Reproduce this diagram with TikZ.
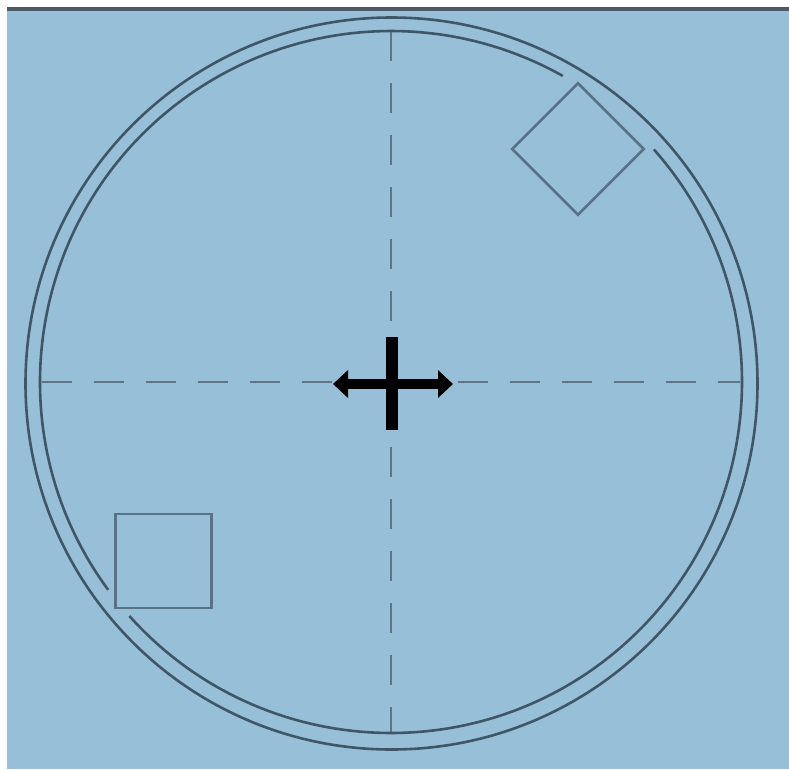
\documentclass[tikz,border=0pt]{standalone}
\usetikzlibrary{arrows.meta}
\definecolor{bgblue}{HTML}{97BFD8}
\definecolor{ringcol}{HTML}{3F5669}
\definecolor{boxcol}{HTML}{587388}
\definecolor{dashcol}{HTML}{5F7587}
\definecolor{topbar}{HTML}{4A5A6A}
\tikzset{
  ring/.style={draw=ringcol, line width=2.6pt},
  marker/.style={draw=boxcol, line width=2.6pt, inner sep=0pt, outer sep=0pt},
  crossline/.style={draw=dashcol, line width=2.8pt, dash pattern=on 30pt off 22pt},
  crossbar/.style={draw=black, line width=12pt},
}
\begin{document}
\begin{tikzpicture}[x=1pt,y=-1pt]
\useasboundingbox (0,0) rectangle (789,769);
\fill[white] (0,0) rectangle (789,769);
\fill[bgblue] (7,7) rectangle (789,769);
\fill[topbar] (7,7) rectangle (789,10.5);
% centres
\coordinate (co) at (391.5,383.5);
\coordinate (ci) at (391,382);
% dashed crosshair
\coordinate (hl) at (42,382);
\coordinate (hr) at (740,382);
\coordinate (vt) at (391,31);
\coordinate (vb) at (391,733);
\draw[crossline] (hl) -- (hr);
\draw[crossline] (vt) -- (vb);
% circles
\draw[ring] (co) circle[radius=366];
\draw[ring] ([shift={(-41.5:351)}]ci) arc[start angle=-41.5, end angle=138.2, radius=351];
\draw[ring] ([shift={(143.7:351)}]ci) arc[start angle=143.7, end angle=299.3, radius=351];
% markers
\node[marker, minimum width=96pt, minimum height=94pt] (sq) at (163.5,561) {};
\node[marker, minimum size=93pt, rotate=45] (dm) at (578,149) {};
% cross
\coordinate (ct) at (392,337);
\coordinate (cb) at (392,430);
\coordinate (cl) at (333,384);
\coordinate (cr) at (453,384);
\draw[crossbar] (ct) -- (cb);
\draw[draw=black, line width=10pt, {Triangle[length=15pt,width=27pt]}-{Triangle[length=15pt,width=27pt]}] (cl) -- (cr);
\end{tikzpicture}
\end{document}
